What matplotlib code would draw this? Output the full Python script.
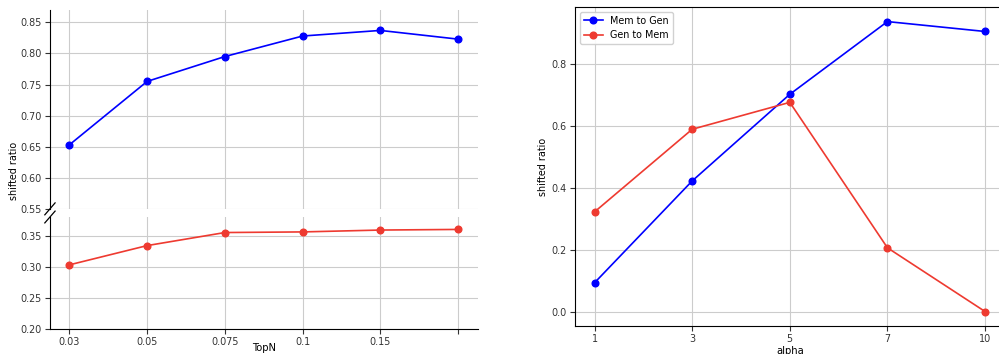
import numpy as np
import matplotlib
matplotlib.use("Agg")
import matplotlib.pyplot as plt

# left panel: TopN sweep (broken y axis)
topn_labels = ["0.03", "0.05", "0.075", "0.1", "0.15", ""]
topn_mem2gen = [0.653, 0.755, 0.795, 0.828, 0.837, 0.823]
topn_gen2mem = [0.303, 0.334, 0.355, 0.356, 0.359, 0.360]

# right panel: alpha sweep
alpha_labels = ["1", "3", "5", "7", "10"]
alpha_mem2gen = [0.094, 0.423, 0.703, 0.938, 0.906]
alpha_gen2mem = [0.323, 0.590, 0.677, 0.207, 0.001]

BLUE = "#0000ff"
RED = "#ee3a30"
GRID = dict(color="#cccccc", linewidth=0.8)
FS = 6.9
MS = 4.8
LW = 1.2

fig = plt.figure(figsize=(9.99, 3.54), dpi=100)

ax_top = fig.add_axes([0.050, 0.410, 0.428, 0.562])
ax_bot = fig.add_axes([0.050, 0.071, 0.428, 0.316])
ax_r = fig.add_axes([0.5756, 0.079, 0.43, 0.901])

x = np.arange(len(topn_labels))

ax_top.plot(x, topn_mem2gen, "-o", color=BLUE, markersize=MS, linewidth=LW)
ax_bot.plot(x, topn_gen2mem, "-o", color=RED, markersize=MS, linewidth=LW)

ax_top.set_ylim(0.55, 0.87)
ax_bot.set_ylim(0.20, 0.38)
for ax in (ax_top, ax_bot):
    ax.set_xlim(-0.25, 5.25)
    ax.set_xticks(x)
    ax.grid(True, **GRID)
    ax.set_axisbelow(True)
    ax.spines["top"].set_visible(False)
    ax.spines["right"].set_visible(False)
    ax.tick_params(labelsize=FS, colors="#333333", pad=2.5)
ax_top.set_yticks([0.55, 0.60, 0.65, 0.70, 0.75, 0.80, 0.85])
ax_bot.set_yticks([0.20, 0.25, 0.30, 0.35])
ax_top.spines["bottom"].set_visible(False)
ax_top.tick_params(axis="x", bottom=False, labelbottom=False)
ax_bot.set_xticklabels(topn_labels)
ax_bot.set_xlabel("TopN", fontsize=FS + 0.3, labelpad=-3)
ax_top.set_ylabel("shifted ratio", fontsize=FS)
ax_top.yaxis.set_label_coords(-0.072, 0.19)

# break marks
d = 0.012
kw = dict(color="k", clip_on=False, linewidth=0.9)
ax_top.plot((-d, d), (-d * 2.5, d * 2.5), transform=ax_top.transAxes, **kw)
ax_bot.plot((-d, d), (1 - d * 4.4, 1 + d * 4.4), transform=ax_bot.transAxes, **kw)

xa = np.arange(len(alpha_labels))
ax_r.plot(xa, alpha_mem2gen, "-o", color=BLUE, markersize=MS, linewidth=LW,
          label="Mem to Gen")
ax_r.plot(xa, alpha_gen2mem, "-o", color=RED, markersize=MS, linewidth=LW,
          label="Gen to Mem")
ax_r.set_xticks(xa)
ax_r.set_xticklabels(alpha_labels)
ax_r.set_xlim(-0.2, 4.2)
ax_r.set_yticks([0.0, 0.2, 0.4, 0.6, 0.8])
ax_r.grid(True, **GRID)
ax_r.set_axisbelow(True)
ax_r.tick_params(labelsize=FS, colors="#333333", pad=2.5)
ax_r.set_xlabel("alpha", fontsize=FS + 0.3, labelpad=1)
ax_r.set_ylabel("shifted ratio", fontsize=FS)
ax_r.yaxis.set_label_coords(-0.064, 0.5)
ax_r.legend(loc="upper left", fontsize=FS, framealpha=0.9, borderaxespad=0.5,
            handlelength=2.0)

fig.savefig("out.png", dpi=100)
